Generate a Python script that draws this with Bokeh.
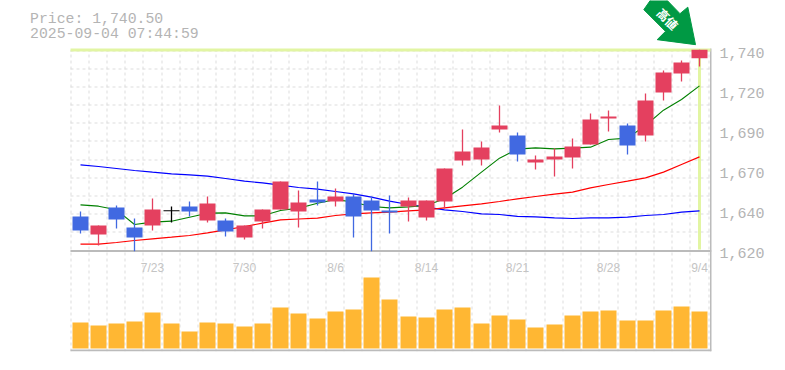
from bokeh.plotting import figure
from bokeh.models import ColumnDataSource, FixedTicker, LinearAxis, Range1d
from bokeh.core.properties import value
from bokeh.embed import file_html
from bokeh.resources import INLINE

opens = [1640.4,1629.6,1645.8,1633.8,1635,1643.6,1646.4,1638,1638,1627.8,1637.4,1644.6,1643.4,1650.6,1649.4,1652.4,1650,1644,1646.4,1639.8,1649.4,1674,1674.6,1692.6,1689,1672.8,1674.6,1675.8,1683.6,1699.2,1695,1689,1714.8,1726.2,1735.4]
closes = [1632,1635,1638.6,1627.8,1644.6,1644.2,1643.4,1648.2,1631.4,1635,1644.6,1661.4,1648.8,1648.8,1652.4,1640.4,1644,1642.8,1650,1650,1669.2,1679.4,1681.8,1695,1677.6,1674.6,1676.4,1682.4,1698.6,1700.4,1683,1710,1726.8,1732.8,1740.5]
highs = [1643.4,1635,1647,1639.2,1651.2,1646.4,1649.4,1652.4,1639.2,1635,1644.6,1661.4,1656,1661.4,1657.2,1654.2,1652.4,1653,1651.8,1650,1669.2,1692.6,1685.4,1707,1690.8,1677,1681.2,1687.2,1702.2,1704,1696.2,1714.2,1728,1734,1740.5]
lows = [1630.2,1623,1633.2,1619.6,1632,1636.8,1640.4,1636.8,1628.4,1626.6,1633.2,1644.6,1633.8,1647,1646.4,1627.8,1619.6,1630.2,1637.4,1638,1645.2,1671,1671,1690.8,1673.4,1668.6,1664.4,1669.2,1683.6,1691.4,1677.6,1685.4,1710,1721.4,1730.4]
volumes = [26,23,25,27,36,25,17,26,25,22,25,41,35,30,37,39,71,49,32,31,39,41,25,33,29,21,24,33,37,38,28,28,38,42,37]
ma_short = [1647.4,1646.6,1644.4,1635.6,1637,1637.6,1640,1642.4,1642.6,1640.8,1640.8,1644,1645.4,1648.4,1650.6,1649,1646.4,1645.6,1646.2,1647,1651,1658,1667,1675.4,1680.8,1681.6,1681,1681.4,1682,1686.6,1687.4,1695,1704.2,1710.6,1718.8]
ma_mid = [1623.8,1623.8,1624.8,1626,1627,1628,1629,1630.6,1632.4,1634.4,1636.4,1638.4,1638.9,1639.4,1641,1642,1642.6,1643,1643.8,1644.4,1645.6,1646.8,1648,1649.4,1651,1652.4,1653.8,1655,1657.6,1659.6,1661.6,1663.6,1667,1671.6,1676.2]
ma_long = [1671.4,1670.4,1669.2,1668,1667,1666,1665.4,1664.6,1663.2,1661.6,1660.6,1659.2,1657.8,1656.8,1655.4,1654,1652,1649.6,1647.6,1646,1644.4,1643.4,1642,1641.6,1640.5,1640.2,1639.6,1639.2,1639.6,1639.6,1640,1641,1641.6,1643,1643.8]
date_labels = ["7/23","7/30","8/6","8/14","8/21","8/28","9/4"]
date_index = [4,9,14,19,24,29,34]
price_ticks = [1620,1644,1668,1692,1716,1740]
price_labels = ["1,620","1,640","1,670","1,690","1,720","1,740"]
header = ["Price: 1,740.50","2025-09-04 07:44:59"]
arrow_text = "高値"

STEP = 18.235
n = len(closes)
xs = [int(STEP * i) / STEP for i in range(n)]  # whole-pixel slots

def dx(px):  # page pixel -> x value
    return (px - 80) / STEP

def dy(py):  # page pixel -> price value
    return 1620 + (250 - py) * 0.6

GREY = "#b4b4b4"
GRID = "#dddddd"
HILITE = "#e2f5a3"
UP, DOWN, DOJI = "#e4405f", "#4169e1", "#000000"
colors = [DOJI if abs(o - c) < 1 else (UP if c > o else DOWN) for o, c in zip(opens, closes)]

src = ColumnDataSource(dict(x=xs, top=[max(o, c) for o, c in zip(opens, closes)],
                            bottom=[min(o, c) for o, c in zip(opens, closes)],
                            high=highs, low=lows, color=colors, vol=volumes,
                            s=ma_short, m=ma_mid, l=ma_long))

p = figure(width=777, height=362, output_backend="svg", toolbar_location=None,
           x_axis_location=None, y_axis_location=None,
           x_range=Range1d(dx(0), dx(711)), y_range=Range1d(dy(351), dy(0)),
           min_border_left=0, min_border_right=66, min_border_top=0, min_border_bottom=11,
           background_fill_color="white", border_fill_color="white", outline_line_color=None)
p.grid.visible = False
p.extra_y_ranges = {"vol": Range1d(-3, 348), "lab": Range1d(dy(351) + 1.2, dy(0) + 1.2)}

ax = LinearAxis(y_range_name="lab", ticker=FixedTicker(ticks=price_ticks),
                major_label_overrides=dict(zip(price_ticks, price_labels)),
                major_tick_line_color=None, minor_tick_line_color=None, major_tick_out=0, major_tick_in=0,
                axis_line_color=None, major_label_standoff=8,
                major_label_text_color=GREY, major_label_text_font="Liberation Mono",
                major_label_text_font_size="15px")
p.add_layout(ax, "right")

# dashed grid, confined to the panels
gx = [dx(int(70 + STEP * k) + 0.5) for k in range(n + 1)]
gy = [dy(int(50 + 200 / 11 * k) + 0.5) for k in range(12)]
p.segment(x0=gx, x1=gx, y0=[dy(351)] * len(gx), y1=[dy(50)] * len(gx),
          line_color=GRID, line_dash="3 3", line_width=1)
p.segment(x0=[dx(70)] * len(gy), x1=[dx(710)] * len(gy), y0=gy, y1=gy,
          line_color=GRID, line_dash="3 3", line_width=1)

# borders
p.segment(x0=[dx(70), dx(70), dx(710.5)], x1=[dx(711), dx(711), dx(710.5)],
          y0=[dy(250.5), dy(350), dy(48)], y1=[dy(250.5), dy(350), dy(351)],
          line_color="#bbbbbb", line_width=2)

# highlight of the last price and date
p.segment(x0=[dx(70)], x1=[dx(710)], y0=[dy(49.5)], y1=[dy(49.5)], line_color=HILITE, line_width=3)
p.segment(x0=[xs[-1]], x1=[xs[-1]], y0=[dy(249)], y1=[closes[-1]], line_color=HILITE, line_width=3)

p.vbar(x="x", top="vol", bottom=0, width=16 / STEP, source=src, y_range_name="vol",
       fill_color="#ffb733", line_color=None)

p.line("x", "l", source=src, line_color="#0000ff", line_width=1.2)
p.line("x", "m", source=src, line_color="#ff0000", line_width=1.2)
p.line("x", "s", source=src, line_color="#008000", line_width=1.1)

p.segment(x0="x", x1="x", y0="low", y1="high", source=src, line_color="color", line_width=1.3)
p.vbar(x="x", top="top", bottom="bottom", width=16 / STEP, source=src, fill_color="color", line_color=None)

p.text(x=[xs[i] for i in date_index], y=[dy(267)] * len(date_index), text=date_labels, text_align="center",
       text_baseline="alphabetic", text_color="#c4c4c4", text_font=value("Liberation Sans"), text_font_size="12px")

# arrow: pixel offsets from its tip, which sits just above the last candle
tip_x, tip_y = xs[-1] - 4 / STEP, closes[-1] + 3
arrow_dx = [-51.7, -44, -30, -15.5, -7.7, 0, -38.3, -30]
arrow_dy = [35, 46, 46, 31, 37.5, 0, 5, 13.3]
p.patch([tip_x + a / STEP for a in arrow_dx], [tip_y + b * 0.6 for b in arrow_dy],
        fill_color="#009944", line_color="#009944", line_width=1)
p.text(x=[dx(667.5)], y=[dy(18)], text=[arrow_text], angle=-45, angle_units="deg",
       text_align="center", text_baseline="middle", text_color="white",
       text_font=value("Noto Sans CJK JP"), text_font_style="bold", text_font_size="12px")

p.text(x=[dx(29.5)] * 2, y=[dy(18), dy(33)], text=header, text_align="left", text_baseline="middle",
       text_color=GREY, text_font=value("Liberation Mono"), text_font_size="14.8px")

open("out.html", "w").write(file_html(p, INLINE))
